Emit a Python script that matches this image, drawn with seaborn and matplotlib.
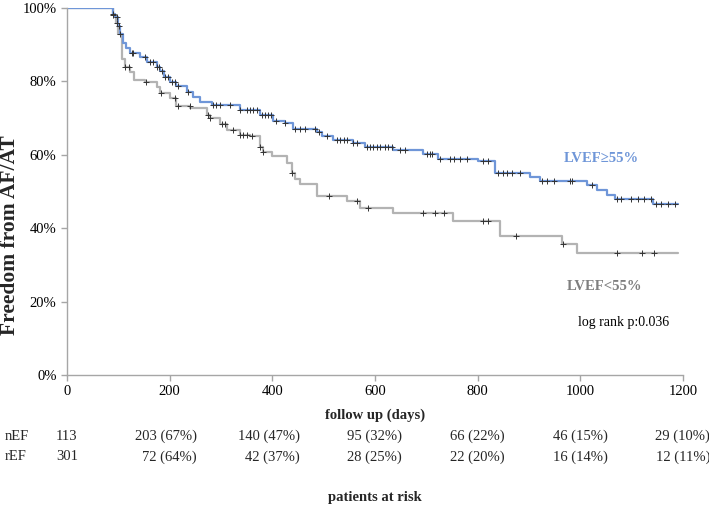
import matplotlib
matplotlib.use("Agg")
import matplotlib.pyplot as plt
import matplotlib.transforms as mtransforms
import numpy as np
import pandas as pd
import seaborn as sns

# Kaplan-Meier steps (day, freedom in %)
nef_days = [0, 90, 94, 100, 103, 109, 115, 123, 142, 155, 175, 181, 188, 200, 213, 233, 246, 259, 282,
            337, 376, 402, 425, 440, 487, 497, 519, 558, 581, 635, 694, 722, 801, 834, 902, 921, 1013,
            1032, 1052, 1068, 1142, 1190]
nef_surv = [100, 98.5, 97.5, 95, 93, 90.5, 89, 87.7, 86.6, 85.3, 84, 82.8, 81.2, 79.8, 78.7, 77.1, 75.7, 74.4, 73.6,
            72.2, 70.8, 69.2, 68.7, 67, 66.2, 65.1, 64, 63.2, 62.1, 61.3, 60.2, 58.9, 58.2, 55, 54, 52.9, 51.8,
            50.4, 49, 48, 46.6, 46.6]
ref_days = [0, 90, 95, 100, 107, 113, 123, 130, 152, 175, 181, 200, 213, 240, 272, 278, 298, 311, 337, 357,
            376, 382, 399, 428, 438, 444, 454, 487, 545, 571, 635, 752, 844, 964, 993, 1190]
ref_surv = [100, 98, 96, 93, 86, 84, 82.5, 80.4, 79.8, 78.5, 76.8, 75.5, 73.3, 72.7, 70.8, 70, 68.4, 66.8, 65.4, 65,
            62, 60.8, 59.7, 57.8, 55, 53.4, 52, 48.8, 47.4, 45.5, 44.1, 42, 37.8, 35.6, 33.2, 33.2]

# censored patients (days)
nef_cens = [90, 97, 101, 126, 129, 152, 162, 168, 175, 180, 185, 191, 197, 204, 210, 216, 236, 285, 291, 298,
            317, 337, 350, 357, 363, 370, 379, 385, 392, 398, 408, 425, 444, 454, 464, 483, 490, 506, 526, 532,
            539, 545, 558, 565, 584, 591, 597, 604, 610, 620, 626, 633, 649, 659, 701, 708, 711, 727, 747, 753,
            766, 779, 811, 821, 840, 850, 857, 866, 883, 925, 935, 948, 980, 984, 1023, 1072, 1079, 1099, 1112,
            1125, 1138, 1148, 1158, 1171, 1184]
ref_cens = [90, 97, 103, 113, 120, 153, 183, 210, 216, 239, 275, 278, 301, 307, 324, 337, 343, 350, 360, 376,
            382, 438, 510, 565, 586, 694, 717, 734, 810, 820, 875, 967, 1071, 1120, 1143]

# patients at risk table
risk_days = [0, 200, 400, 600, 800, 1000, 1200]
nef_risk = ["113", "203 (67%)", "140 (47%)", "95 (32%)", "66 (22%)", "46 (15%)", "29 (10%)"]
ref_risk = ["301", "72 (64%)", "42 (37%)", "28 (25%)", "22 (20%)", "16 (14%)", "12 (11%)"]


def at(days, surv, t):
    i = np.searchsorted(days, t, side="right") - 1
    return np.asarray(surv)[i]


sns.set_style("ticks")
plt.rcParams["font.family"] = ["Liberation Serif", "DejaVu Serif"]

blue = "#6f96d8"
grey = "#b3b3b3"
axc = "#a6a6a6"

fig = plt.figure(figsize=(7.09, 5.07), dpi=100)
ax = fig.add_axes([0.0945, 0.2604, 0.8688, 0.7238])

steps = pd.concat([
    pd.DataFrame({"day": ref_days, "surv": np.array(ref_surv) / 100, "grp": "rEF"}),
    pd.DataFrame({"day": nef_days, "surv": np.array(nef_surv) / 100, "grp": "nEF"}),
])
sns.lineplot(data=steps, x="day", y="surv", hue="grp", palette={"nEF": blue, "rEF": grey},
             drawstyle="steps-post", estimator=None, sort=False, linewidth=1.6, legend=False, ax=ax)

cens = pd.DataFrame({
    "day": nef_cens + ref_cens,
    "surv": list(at(nef_days, nef_surv, nef_cens) / 100) + list(at(ref_days, ref_surv, ref_cens) / 100),
})
sns.scatterplot(data=cens, x="day", y="surv", marker="+", color="#333333", s=20, linewidth=0.7, ax=ax, zorder=5)

ax.set_xlim(0, 1200)
ax.set_ylim(0, 1)
ax.set_xticks(range(0, 1201, 200))
ax.set_yticks(np.arange(0, 1.01, 0.2))
ax.set_yticklabels([f"{int(round(v * 100))}%" for v in np.arange(0, 1.01, 0.2)])
ax.tick_params(colors=axc, labelcolor="black", labelsize=10.5, length=4, width=1)
for side in ["top", "right"]:
    ax.spines[side].set_visible(False)
for side in ["left", "bottom"]:
    ax.spines[side].set_color(axc)
    ax.spines[side].set_linewidth(1)

ax.set_xlabel("follow up (days)", fontsize=10.5, fontweight="bold")
ax.xaxis.set_label_coords(0.5, -0.092)
ax.set_ylabel("")
fig.text(10 / 709, 1 - 235 / 507, "Freedom from AF/AT", fontsize=15.5, fontweight="bold",
         rotation=90, ha="center", va="center")

ax.text(1040, 0.59, "LVEF\u226555%", color=blue, fontsize=10.5, fontweight="bold", ha="center", va="center")
ax.text(1048, 0.24, "LVEF<55%", color="#7f7f7f", fontsize=10.5, fontweight="bold", ha="center", va="center")
ax.text(1085, 0.143, "log rank p:0.036", color="black", fontsize=10, ha="center", va="center")

# at-risk table below the axis
tr = mtransforms.blended_transform_factory(ax.transData, fig.transFigure)
fig.text(5 / 709, 1 - 436 / 507, "nEF", fontsize=10.5, va="center")
fig.text(5 / 709, 1 - 457 / 507, "rEF", fontsize=10.5, va="center")
for d, a, b in zip(risk_days, nef_risk, ref_risk):
    xx = 21 if d == 0 else d + 53
    ax.text(xx, 1 - 436 / 507, a, transform=tr, fontsize=10.5, ha="right", va="center")
    ax.text(xx, 1 - 457 / 507, b, transform=tr, fontsize=10.5, ha="right", va="center")
ax.text(600, 1 - 497 / 507, "patients at risk", transform=tr, fontsize=10.5, fontweight="bold",
        ha="center", va="center")

fig.savefig("out.png", dpi=100)
